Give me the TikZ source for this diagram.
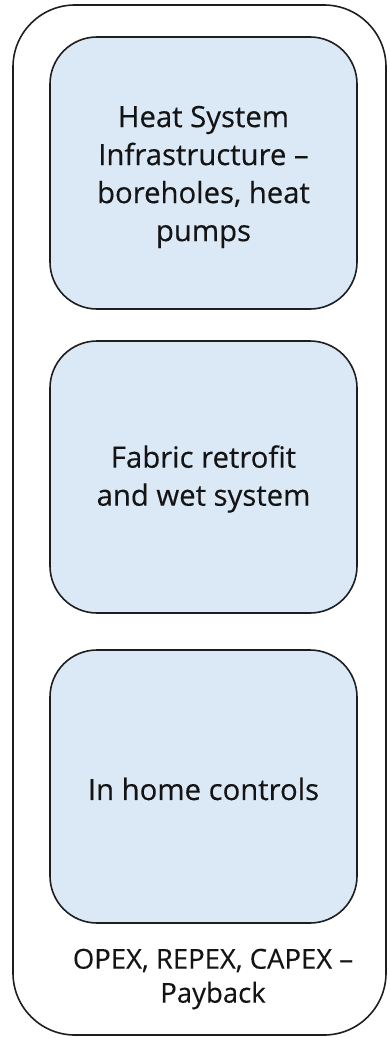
\documentclass[tikz,border=0pt]{standalone}
\usepackage{fontspec}
\setmainfont{Open Sans}[FakeBold=0.3]
\definecolor{boxfill}{RGB}{219,232,245}
\definecolor{edge}{RGB}{30,30,30}
\definecolor{txt}{RGB}{20,20,20}
\begin{document}
\begin{tikzpicture}[x=1pt,y=-1pt,
  outerbox/.style={draw=edge,line width=1.6pt,rounded corners=62pt},
  innerbox/.style={draw=edge,line width=1.6pt,fill=boxfill,rounded corners=47pt},
  boxtext/.style={align=center,text=txt,font=\fontsize{29.3}{38}\selectfont,inner sep=0pt},
  bottomtext/.style={align=center,text=txt,font=\fontsize{27.5}{34}\selectfont,inner sep=0pt}]
\useasboundingbox (0,0) rectangle (389,1038);
\draw[outerbox] (13,5) rectangle (386,1035);
\draw[innerbox] (50,37) rectangle (357,309);
\draw[innerbox] (50,341) rectangle (357,613);
\draw[innerbox] (50,650) rectangle (357,923);
\coordinate (c1) at (203.5,177);
\coordinate (c2) at (203.5,479);
\coordinate (c3) at (203.5,789);
\node[boxtext] (t1) at (c1) {Heat System\\Infrastructure –\\boreholes, heat\\pumps};
\node[boxtext] (t2) at (c2) {Fabric retrofit\\and wet system};
\node[boxtext] (t3) at (c3) {In home controls};
\node[bottomtext] (t4) at (213,979) {OPEX, REPEX, CAPEX –\\Payback};
\end{tikzpicture}
\end{document}
